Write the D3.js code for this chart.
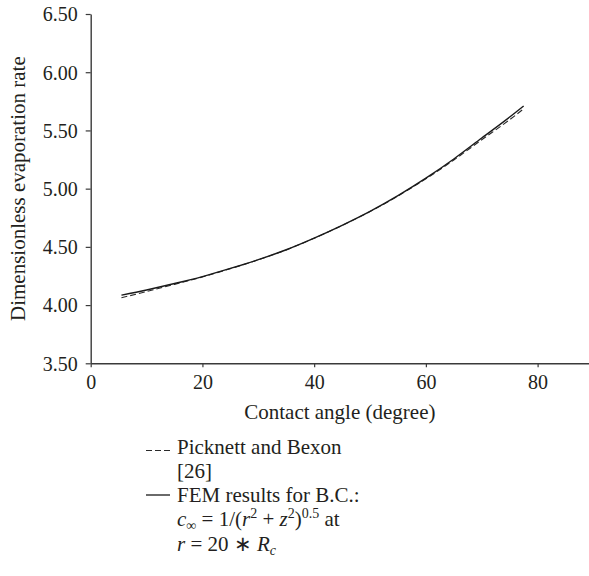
<!DOCTYPE html>
<html>
<head>
<meta charset="utf-8">
<script src="https://cdn.jsdelivr.net/npm/d3@7"></script>
<style>
  html, body { margin: 0; padding: 0; background: #fff; }
  svg { display: block; }
</style>
</head>
<body>
<svg id="chart" width="589" height="576"></svg>
<script>
// Contact angle (degree) at which both curves are sampled
const angles = [5.5, 10, 15, 20, 25, 30, 35, 40, 45, 50, 55, 60, 65, 70, 75, 77.5];
// FEM results, far-field B.C. c = 1/(r^2+z^2)^0.5 at r = 20 Rc
const femRate = [4.085, 4.130, 4.185, 4.245, 4.315, 4.390, 4.475, 4.575, 4.685, 4.805, 4.940, 5.090, 5.255, 5.435, 5.615, 5.710];
// Picknett and Bexon [26]
const picknettRate = [4.063, 4.116, 4.178, 4.242, 4.313, 4.389, 4.474, 4.574, 4.684, 4.803, 4.937, 5.085, 5.246, 5.420, 5.592, 5.685];

const xTicks = [0, 20, 40, 60, 80];
const yTicks = [3.5, 4.0, 4.5, 5.0, 5.5, 6.0, 6.5];

const FONT = "'Liberation Serif', Tinos, 'Times New Roman', serif";
const ink = "#231f20";

const svg = d3.select("#chart")
  .attr("font-family", FONT)
  .style("font-family", FONT);

const plotLeft = 90.7, plotRight = 589, plotTop = 14, plotBottom = 363.3;
const x = d3.scaleLinear().domain([0, 89.2]).range([plotLeft, plotRight]);
const y = d3.scaleLinear().domain([3.5, 6.5]).range([plotBottom, plotTop]);

// Axes
const xAxis = svg.append("g")
  .attr("transform", `translate(0,${plotBottom})`)
  .call(d3.axisBottom(x).tickValues(xTicks).tickFormat(d3.format("d"))
    .tickSize(4).tickSizeOuter(0).tickPadding(9));
const yAxis = svg.append("g")
  .attr("transform", `translate(${plotLeft},0)`)
  .call(d3.axisLeft(y).tickValues(yTicks).tickFormat(d3.format(".2f"))
    .tickSize(5).tickSizeOuter(0).tickPadding(8));

[xAxis, yAxis].forEach(g => {
  g.attr("font-family", FONT).attr("font-size", 20);
  g.select(".domain").attr("stroke", "#3a3a3a").attr("stroke-width", 1.4);
  g.selectAll(".tick line").attr("stroke", "#3a3a3a").attr("stroke-width", 1.2);
  g.selectAll(".tick text").attr("fill", ink).style("font-family", FONT).style("font-size", "20px");
});
xAxis.selectAll(".tick text").attr("dy", "0.62em");
yAxis.selectAll(".tick text").attr("dy", "0.34em");

// Axis titles
svg.append("text")
  .attr("x", (plotLeft + plotRight) / 2).attr("y", 418.5)
  .attr("text-anchor", "middle").attr("fill", ink)
  .style("font-family", FONT).style("font-size", "21px")
  .text("Contact angle (degree)");
svg.append("text")
  .attr("transform", `translate(25,${(plotTop + plotBottom) / 2}) rotate(-90)`)
  .attr("text-anchor", "middle").attr("fill", ink)
  .style("font-family", FONT).style("font-size", "21px")
  .text("Dimensionless evaporation rate");

// Curves
const line = d3.line().x(d => x(d[0])).y(d => y(d[1])).curve(d3.curveMonotoneX);
svg.append("path")
  .datum(angles.map((a, i) => [a, picknettRate[i]]))
  .attr("d", line).attr("fill", "none")
  .attr("stroke", "#2a2a2a").attr("stroke-width", 1.1)
  .attr("stroke-dasharray", "6,3");
svg.append("path")
  .datum(angles.map((a, i) => [a, femRate[i]]))
  .attr("d", line).attr("fill", "none")
  .attr("stroke", "#1a1a1a").attr("stroke-width", 1.4);

// Legend
const lg = svg.append("g");
const swatchX1 = 146, swatchX2 = 170, labelX = 177;
lg.append("line").attr("x1", swatchX1).attr("x2", swatchX2).attr("y1", 450.5).attr("y2", 450.5)
  .attr("stroke", "#2a2a2a").attr("stroke-width", 1.1).attr("stroke-dasharray", "6,3");
lg.append("line").attr("x1", swatchX1).attr("x2", swatchX2).attr("y1", 495).attr("y2", 495)
  .attr("stroke", "#1a1a1a").attr("stroke-width", 1.3);

function richText(xPos, yPos, parts) {
  const t = lg.append("text").attr("x", xPos).attr("y", yPos).attr("fill", ink)
    .style("font-family", FONT).style("font-size", "21px");
  let prevShift = 0;
  parts.forEach(p => {
    const shift = p.shift || 0;
    const ts = t.append("tspan").text(p.t).attr("dy", shift - prevShift);
    if (p.italic) ts.style("font-style", "italic");
    if (p.size) ts.style("font-size", p.size + "px");
    prevShift = shift;
  });
  return t;
}

richText(labelX, 454, [{ t: "Picknett and Bexon" }]);
richText(labelX, 478, [{ t: "[26]" }]);
richText(labelX, 502, [{ t: "FEM results for B.C.:" }]);
richText(labelX, 526, [
  { t: "c", italic: true },
  { t: "∞", size: 14, shift: 4 },
  { t: " = 1/(" },
  { t: "r", italic: true },
  { t: "2", size: 14, shift: -8 },
  { t: " + " },
  { t: "z", italic: true },
  { t: "2", size: 14, shift: -8 },
  { t: ")" },
  { t: "0.5", size: 14, shift: -8 },
  { t: " at" }
]);
richText(labelX, 550.5, [
  { t: "r", italic: true },
  { t: " = 20 ∗ " },
  { t: "R", italic: true },
  { t: "c", italic: true, size: 14, shift: 4 }
]);
</script>
</body>
</html>
